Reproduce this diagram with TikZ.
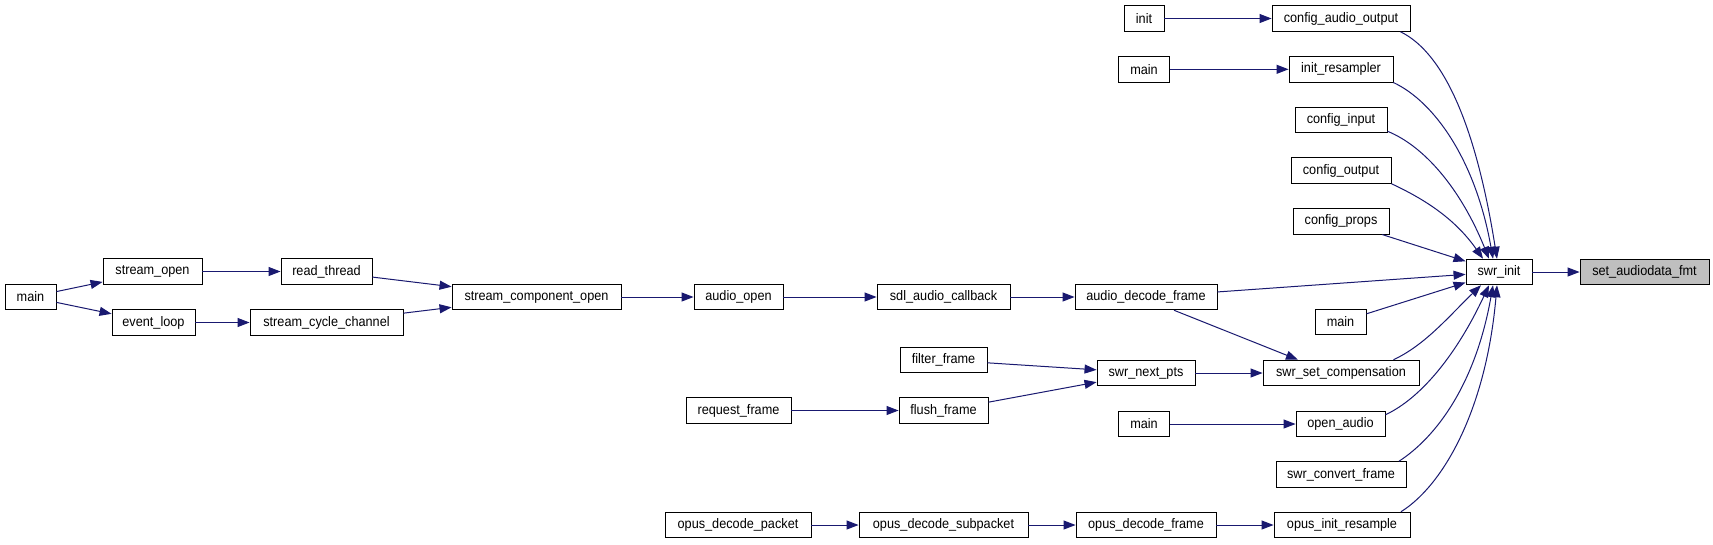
\documentclass[tikz,border=0pt]{standalone}
\usepackage{fontspec}
\setmainfont{Liberation Sans}
\newfontfamily\nodefont[FakeStretch=0.92]{Liberation Sans}
\usetikzlibrary{arrows.meta}
\definecolor{edgeblue}{RGB}{25,25,112}
\definecolor{hlgrey}{RGB}{191,191,191}
\newcommand\mkbox[6][]{\node[fnbox,#1,minimum width={#4-#3}] (#2) at ({(#3+#4)/2},#5) {#6};}
\begin{document}
\begin{tikzpicture}[x=1pt,y=-1pt,
  fnbox/.style={draw=black, line width=0.9pt, fill=white, rectangle, inner sep=0pt,
    minimum height=25.6pt, font=\nodefont\fontsize{13.8}{16}\selectfont},
  edge/.style={draw=edgeblue, line width=1pt, -{Triangle[length=12pt,width=9pt]}}]
\useasboundingbox[fill=white] (0,0) rectangle (1713,544);
% left part
\mkbox{ma}{5}{56}{297}{main}
\mkbox{so}{103}{202}{271.5}{stream\_open}
\mkbox{el}{112}{195}{322.5}{event\_loop}
\mkbox{rt}{281}{372}{271.5}{read\_thread}
\mkbox{scc}{250}{403}{322.5}{stream\_cycle\_channel}
\mkbox{sco}{452}{621}{297}{stream\_component\_open}
\mkbox{ao}{694}{783}{297}{audio\_open}
\mkbox{sac}{877}{1010}{297}{sdl\_audio\_callback}
\mkbox{adf}{1075}{1217}{297}{audio\_decode\_frame}
% right part
\mkbox{swr}{1466}{1532}{272}{swr\_init}
\mkbox[fill=hlgrey]{saf}{1580}{1709}{272}{set\_audiodata\_fmt}
\mkbox{ini}{1124}{1164}{18.5}{init}
\mkbox{cao}{1272}{1410}{18.5}{config\_audio\_output}
\mkbox{mb}{1118.5}{1169.5}{69.3}{main}
\mkbox{ir}{1289}{1393}{69.3}{init\_resampler}
\mkbox{ci}{1295}{1387}{120}{config\_input}
\mkbox{co}{1291}{1391}{170.5}{config\_output}
\mkbox{cp}{1293}{1389}{221.3}{config\_props}
\mkbox{mc}{1315}{1366}{322}{main}
\mkbox{ssc}{1263}{1419}{373}{swr\_set\_compensation}
\mkbox{snp}{1097}{1195}{373}{swr\_next\_pts}
\mkbox{ff}{900}{987}{360}{filter\_frame}
\mkbox{fl}{899}{988}{410.5}{flush\_frame}
\mkbox{rf}{686}{791}{410.5}{request\_frame}
\mkbox{md}{1118.5}{1169.5}{424}{main}
\mkbox{oa}{1296}{1385}{424}{open\_audio}
\mkbox{scf}{1276}{1406}{474.5}{swr\_convert\_frame}
\mkbox{oir}{1274}{1410}{525}{opus\_init\_resample}
\mkbox{odf}{1076}{1216}{525}{opus\_decode\_frame}
\mkbox{ods}{859}{1028}{525}{opus\_decode\_subpacket}
\mkbox{odp}{665}{811}{525}{opus\_decode\_packet}
% straight edges
\draw[edge] (ma) -- (so);
\draw[edge] (ma) -- (el);
\draw[edge] (so) -- (rt);
\draw[edge] (el) -- (scc);
\draw[edge] (rt) -- (sco);
\draw[edge] (scc) -- (sco);
\draw[edge] (sco) -- (ao);
\draw[edge] (ao) -- (sac);
\draw[edge] (sac) -- (adf);
\draw[edge] (adf) -- (swr);
\draw[edge] ([xshift=28pt]adf.south) -- ([xshift=-43pt]ssc.north);
\draw[edge] (swr) -- (saf);
\draw[edge] (ini) -- (cao);
\draw[edge] (mb) -- (ir);
\draw[edge] (cp) -- (swr);
\draw[edge] (mc) -- (swr);
\draw[edge] (ff) -- (snp);
\draw[edge] (fl) -- (snp);
\draw[edge] (rf) -- (fl);
\draw[edge] (snp) -- (ssc);
\draw[edge] (md) -- (oa);
\draw[edge] (odp) -- (ods);
\draw[edge] (ods) -- (odf);
\draw[edge] (odf) -- (oir);
% curved edges into swr_init
\draw[edge] ([xshift=-10pt]cao.south east) to[out=-26,in=99,out distance=50pt,in distance=130pt] ([xshift=-2pt]swr.north);
\draw[edge] (ir.south east) to[out=-25,in=100,out distance=45pt,in distance=100pt] ([xshift=-6pt]swr.north);
\draw[edge] ([yshift=2pt]ci.south east) to[out=-22,in=112,out distance=40pt,in distance=75pt] ([xshift=-10pt]swr.north);
\draw[edge] (co.south east) to[out=-25,in=125,out distance=35pt,in distance=50pt] ([xshift=-16pt]swr.north);
\draw[edge] ([xshift=-26pt]ssc.north east) to[out=25,in=224,out distance=35pt,in distance=45pt] ([xshift=-18pt]swr.south);
\draw[edge] ([yshift=-4pt]oa.north east) to[out=25,in=245,out distance=40pt,in distance=75pt] ([xshift=-10pt]swr.south);
\draw[edge] ([xshift=-7.5pt]scf.north east) to[out=33,in=260,out distance=45pt,in distance=100pt] ([xshift=-6pt]swr.south);
\draw[edge] ([xshift=-9.5pt]oir.north east) to[out=32,in=265,out distance=50pt,in distance=125pt] ([xshift=-2pt]swr.south);
\end{tikzpicture}
\end{document}
